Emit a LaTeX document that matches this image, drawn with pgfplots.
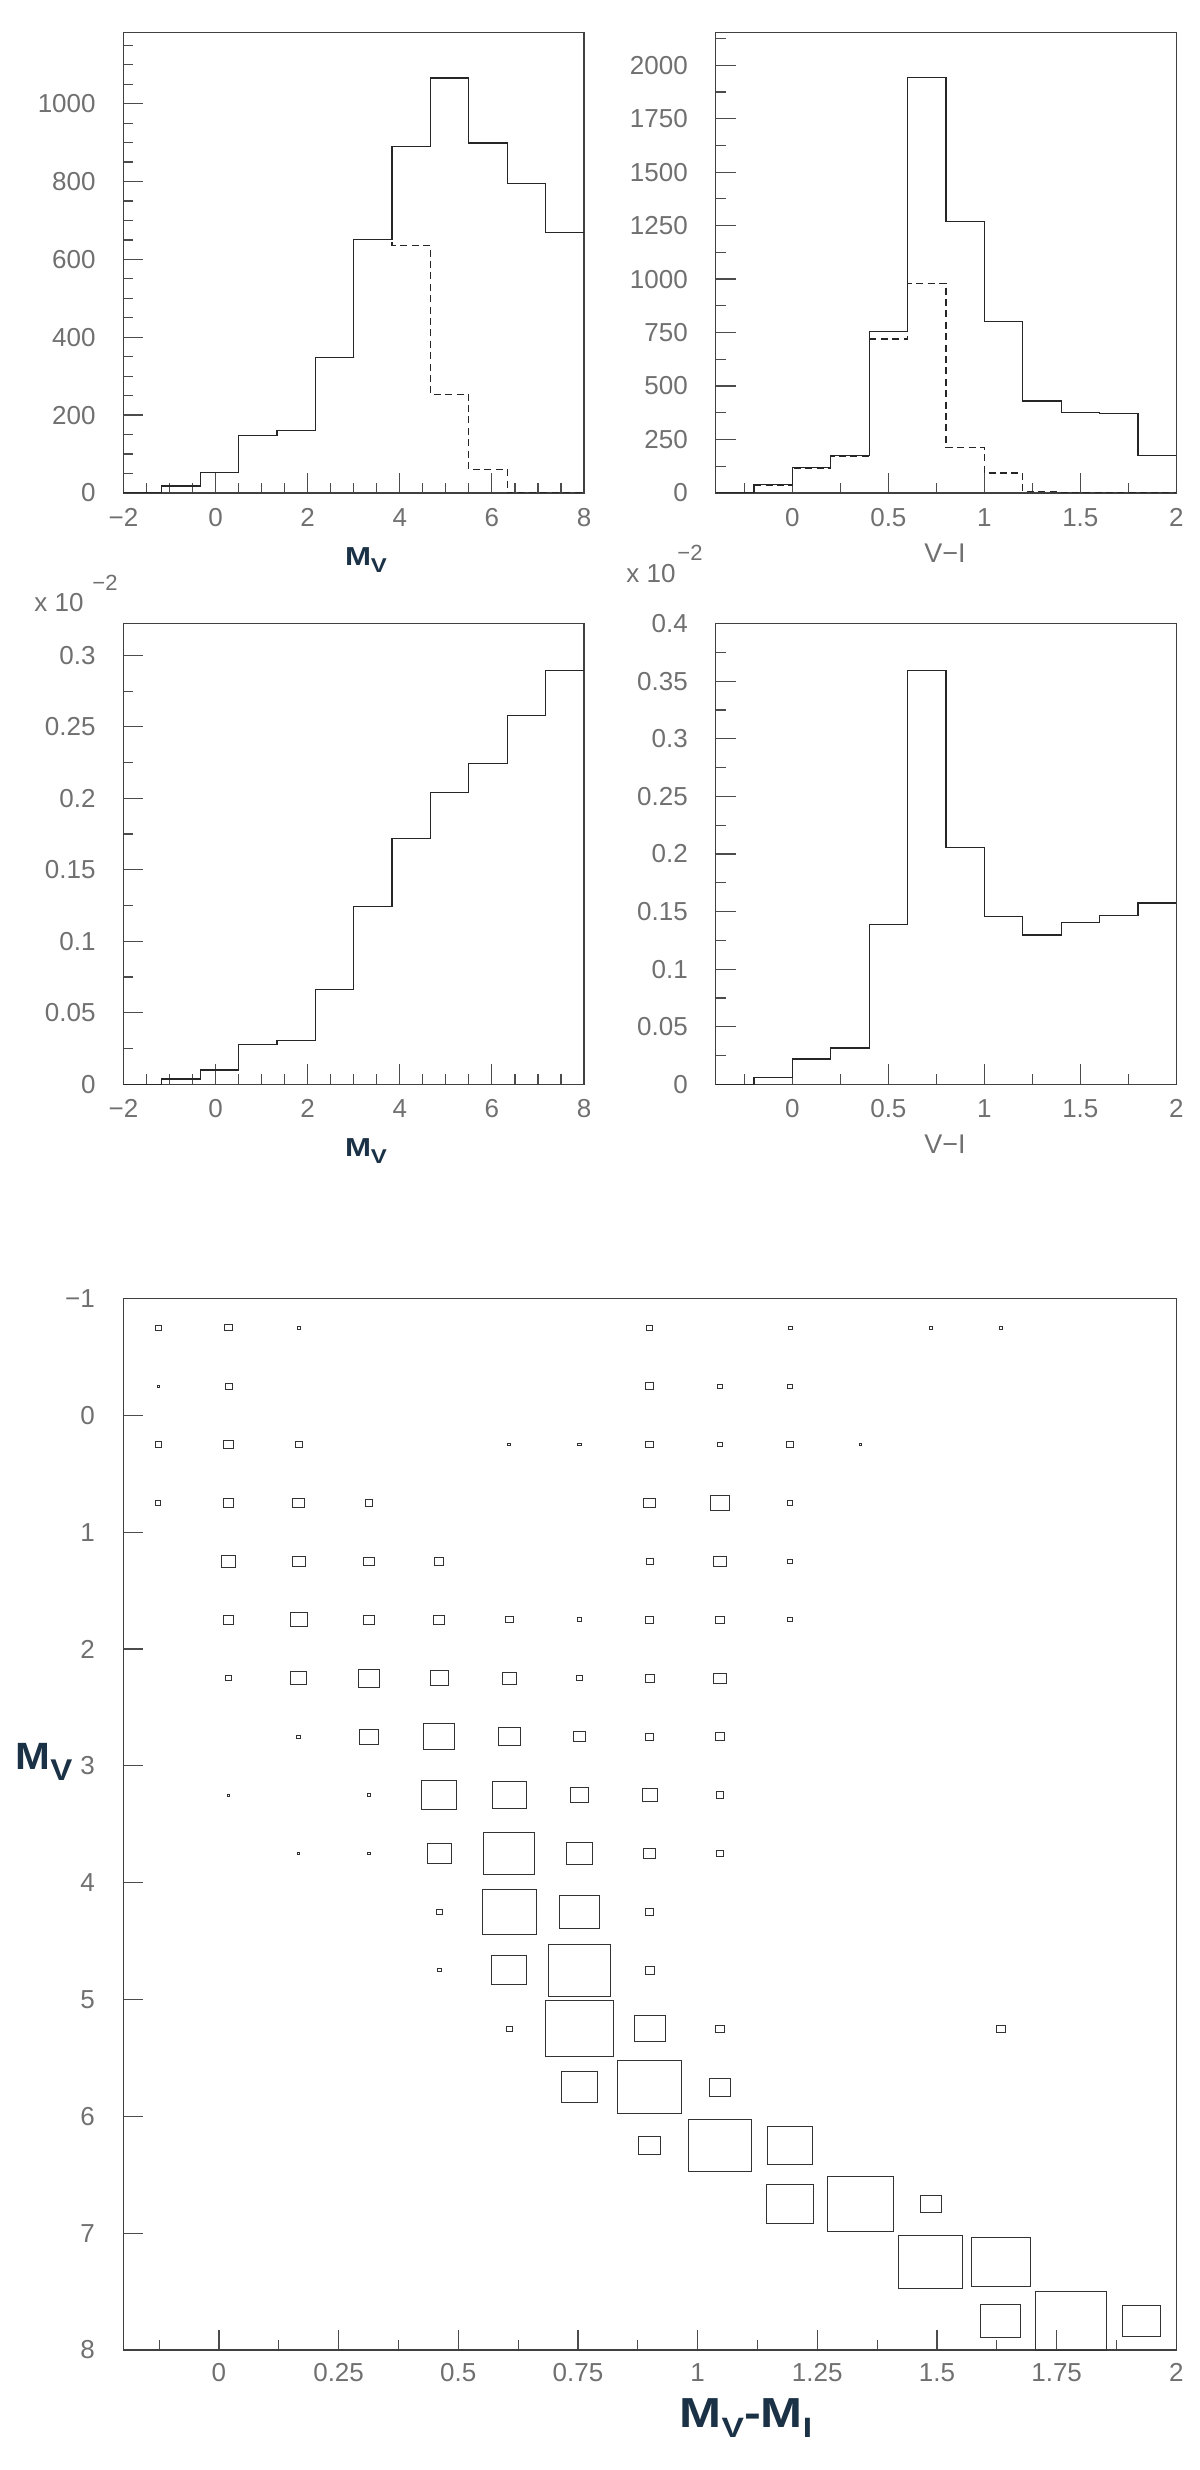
\documentclass[border=0pt]{standalone}
\usepackage{fontspec}
\setmainfont{Liberation Sans}
\usepackage{graphicx}
\usepackage{pgfplots}
\pgfplotsset{compat=1.18}

\definecolor{navy}{RGB}{27,50,70}
\definecolor{ticktext}{RGB}{112,112,112}

% 1 px of the 1200x2470 image = 0.5pt
\newcommand{\lab}[3]{\scalebox{#3}[1]{\fontsize{#1}{#1}\selectfont\bfseries M\raisebox{-0.3em}{\fontsize{#2}{#2}\selectfont V}}}

\pgfplotsset{
  rootframe/.style={
    scale only axis, anchor=north west,
    axis line style={black!75, line width=0.6pt},
    tick align=inside, xtick pos=left, ytick pos=left,
    major tick length=10pt, minor tick length=5pt,
    tick style={black!70, line width=0.6pt},
    tick label style={font=\fontsize{13}{13}\selectfont, text=ticktext, inner sep=0pt},
    yticklabel shift=13.7pt, xticklabel shift=7.5pt,
  },
  histline/.style={const plot, black!85, line width=0.6pt, mark=none},
  histdash/.style={const plot, black!85, line width=0.6pt, mark=none, dash pattern=on 3.5pt off 2.2pt},
}

\begin{document}
\begin{tikzpicture}
\path[use as bounding box] (0,0) rectangle (600pt,-1235pt);

% ---------------- top left: M_V counts
\begin{axis}[rootframe, at={(61.7pt,-16.05pt)}, width=230.3pt, height=230.4pt,
  xmin=-2, xmax=8, ymin=0, ymax=1184,
  xtick={-2,0,2,4,6,8}, xticklabels={−2,0,2,4,6,8},
  minor xtick={-1.5,-1,-0.5,0.5,1,1.5,2.5,3,3.5,4.5,5,5.5,6.5,7,7.5},
  ytick={0,200,400,600,800,1000}, yticklabels={0,200,400,600,800,1000},
  minor ytick={0,50,...,1150}]
\addplot[histdash] coordinates {(-2,1) (-1.1667,16) (-0.3333,52) (0.5,147) (1.3333,161) (2.1667,347) (3,651) (3.8333,636) (4.6667,253) (5.5,61) (6.3333,0) (7.1667,0) (8,0)};
\addplot[histline] coordinates {(-2,2) (-1.1667,18) (-0.3333,52) (0.5,147) (1.3333,161) (2.1667,347) (3,651) (3.8333,890) (4.6667,1066) (5.5,899) (6.3333,794) (7.1667,670) (8,670)};
\end{axis}

% ---------------- top right: V-I counts
\begin{axis}[rootframe, at={(357.8pt,-16.05pt)}, width=230.35pt, height=230.4pt,
  xmin=-0.4, xmax=2, ymin=0, ymax=2155,
  xtick={0,0.5,1,1.5,2}, xticklabels={0,0.5,1,1.5,2},
  minor xtick={-0.25,0.25,0.75,1.25,1.75},
  ytick={0,250,...,2000}, yticklabels={0,250,500,750,1000,1250,1500,1750,2000},
  minor ytick={0,125,...,2125}]
\addplot[histdash] coordinates {(-0.4,0) (-0.2,33) (0,114) (0.2,169) (0.4,720) (0.6,981) (0.8,213) (1,93) (1.2,6) (1.4,3) (1.6,2) (1.8,0) (2,0)};
\addplot[histline] coordinates {(-0.4,3) (-0.2,40) (0,120) (0.2,174) (0.4,756) (0.6,1942) (0.8,1270) (1,801) (1.2,430) (1.4,376) (1.6,370) (1.8,175) (2,175)};
\end{axis}

% ---------------- middle left: fraction vs M_V (x 10^-2)
\begin{axis}[rootframe, at={(61.7pt,-311.8pt)}, width=230.3pt, height=230.35pt,
  xmin=-2, xmax=8, ymin=0, ymax=0.3222,
  xtick={-2,0,2,4,6,8}, xticklabels={−2,0,2,4,6,8},
  minor xtick={-1.5,-1,-0.5,0.5,1,1.5,2.5,3,3.5,4.5,5,5.5,6.5,7,7.5},
  ytick={0,0.05,0.1,0.15,0.2,0.25,0.3}, yticklabels={0,0.05,0.1,0.15,0.2,0.25,0.3},
  minor ytick={0.025,0.075,0.125,0.175,0.225,0.275}]
\addplot[histline] coordinates {(-2,0) (-1.1667,0.0037) (-0.3333,0.010) (0.5,0.028) (1.3333,0.0307) (2.1667,0.0662) (3,0.1244) (3.8333,0.1721) (4.6667,0.2043) (5.5,0.2241) (6.3333,0.258) (7.1667,0.2895) (8,0.2895)};
\end{axis}

% ---------------- middle right: fraction vs V-I (x 10^-2)
\begin{axis}[rootframe, at={(357.8pt,-311.8pt)}, width=230.35pt, height=230.35pt,
  xmin=-0.4, xmax=2, ymin=0, ymax=0.4,
  xtick={0,0.5,1,1.5,2}, xticklabels={0,0.5,1,1.5,2},
  minor xtick={-0.25,0.25,0.75,1.25,1.75},
  ytick={0,0.05,0.1,0.15,0.2,0.25,0.3,0.35,0.4}, yticklabels={0,0.05,0.1,0.15,0.2,0.25,0.3,0.35,0.4},
  minor ytick={0.025,0.075,0.125,0.175,0.225,0.275,0.325,0.375}]
\addplot[histline] coordinates {(-0.4,0) (-0.2,0.0056) (0,0.022) (0.2,0.0316) (0.4,0.139) (0.6,0.3594) (0.8,0.2056) (1,0.146) (1.2,0.1296) (1.4,0.1405) (1.6,0.1467) (1.8,0.1575) (2,0.1575)};
\end{axis}

% ---------------- bottom: box plot M_V vs M_V-M_I
\begin{axis}[rootframe, at={(61.6pt,-649.25pt)}, width=526.55pt, height=525.75pt,
  xmin=-0.2, xmax=2, ymin=-1, ymax=8, y dir=reverse,
  xtick pos=left, xticklabel pos=left,
  yticklabel shift=14pt, xticklabel shift=6.5pt,
  xtick={0,0.25,0.5,0.75,1,1.25,1.5,1.75,2}, xticklabels={0,0.25,0.5,0.75,1,1.25,1.5,1.75,2},
  minor xtick={-0.125,0.125,0.375,0.625,0.875,1.125,1.375,1.625,1.875},
  ytick={-1,0,...,8}, yticklabels={−1,0,1,2,3,4,5,6,7,8},
  clip=false]
\addplot[scatter, only marks, mark=square, point meta=explicit,
  scatter/use mapped color={draw=black!80, fill=none},
  mark options={xscale=1.202, line width=0.5pt},
  visualization depends on={14.6*\thisrow{f} \as \boxsize},
  scatter/@pre marker code/.append style={/tikz/mark size=\boxsize}]
 table[x=x, y=y, meta=f] {
x y f
-0.1267 -0.75 0.08
0.0200 -0.75 0.11
0.1667 -0.75 0.045
0.9000 -0.75 0.08
1.1933 -0.75 0.055
1.4867 -0.75 0.045
1.6333 -0.75 0.045
-0.1267 -0.25 0.03
0.0200 -0.25 0.10
0.9000 -0.25 0.11
1.0467 -0.25 0.07
1.1933 -0.25 0.07
-0.1267 0.25 0.09
0.0200 0.25 0.15
0.1667 0.25 0.10
0.6067 0.25 0.045
0.7533 0.25 0.045
0.9000 0.25 0.11
1.0467 0.25 0.07
1.1933 0.25 0.09
1.3400 0.25 0.035
-0.1267 0.75 0.075
0.0200 0.75 0.15
0.1667 0.75 0.165
0.3133 0.75 0.11
0.9000 0.75 0.165
1.0467 0.75 0.26
1.1933 0.75 0.07
0.0200 1.25 0.21
0.1667 1.25 0.18
0.3133 1.25 0.15
0.4600 1.25 0.135
0.9000 1.25 0.105
1.0467 1.25 0.18
1.1933 1.25 0.07
0.0200 1.75 0.15
0.1667 1.75 0.24
0.3133 1.75 0.165
0.4600 1.75 0.16
0.6067 1.75 0.105
0.7533 1.75 0.07
0.9000 1.75 0.11
1.0467 1.75 0.115
1.1933 1.75 0.07
0.0200 2.25 0.08
0.1667 2.25 0.23
0.3133 2.25 0.305
0.4600 2.25 0.26
0.6067 2.25 0.20
0.7533 2.25 0.08
0.9000 2.25 0.135
1.0467 2.25 0.175
0.1667 2.75 0.05
0.3133 2.75 0.26
0.4600 2.75 0.45
0.6067 2.75 0.315
0.7533 2.75 0.165
0.9000 2.75 0.12
1.0467 2.75 0.135
0.0200 3.25 0.035
0.3133 3.25 0.04
0.4600 3.25 0.49
0.6067 3.25 0.475
0.7533 3.25 0.255
0.9000 3.25 0.21
1.0467 3.25 0.11
0.1667 3.75 0.035
0.3133 3.75 0.035
0.4600 3.75 0.345
0.6067 3.75 0.725
0.7533 3.75 0.38
0.9000 3.75 0.165
1.0467 3.75 0.10
0.4600 4.25 0.087
0.6067 4.25 0.77
0.7533 4.25 0.57
0.9000 4.25 0.11
0.4600 4.75 0.055
0.6067 4.75 0.50
0.7533 4.75 0.887
0.9000 4.75 0.135
0.6067 5.25 0.093
0.7533 5.25 0.964
0.9000 5.25 0.436
1.0467 5.25 0.115
1.6333 5.25 0.125
0.7533 5.75 0.52
0.9000 5.75 0.905
1.0467 5.75 0.305
0.9000 6.25 0.31
1.0467 6.25 0.90
1.1933 6.25 0.64
1.1933 6.75 0.66
1.3400 6.75 0.945
1.4867 6.75 0.30
1.4867 7.25 0.907
1.6333 7.25 0.84
1.6333 7.75 0.57
1.7800 7.75 1.00
1.9267 7.75 0.54
};
\end{axis}

% ---------------- axis titles
\node[text=navy] at (183pt,-280pt) {\lab{13}{10}{1.2}};
\node[text=navy] at (183pt,-575.5pt) {\lab{13}{10}{1.2}};
\node[text=ticktext, font=\fontsize{13.5}{13.5}\selectfont] at (472.5pt,-276.5pt) {V−I};
\node[text=ticktext, font=\fontsize{13.5}{13.5}\selectfont] at (472.5pt,-572pt) {V−I};
\node[text=ticktext, font=\fontsize{13}{13}\selectfont] at (29.5pt,-301.5pt) {x 10};
\node[text=ticktext, font=\fontsize{11}{11}\selectfont] at (52.5pt,-291.5pt) {−2};
\node[text=ticktext, font=\fontsize{13}{13}\selectfont] at (325.5pt,-287pt) {x 10};
\node[text=ticktext, font=\fontsize{11}{11}\selectfont] at (345pt,-276.5pt) {−2};
\node[text=navy] at (22pt,-881pt) {\lab{19}{15}{1.1}};
\node[text=navy] at (373pt,-1209pt) {\scalebox{1.2}[1]{\fontsize{21}{21}\selectfont\bfseries M\raisebox{-0.25em}{\fontsize{14}{14}\selectfont V}-M\raisebox{-0.25em}{\fontsize{14}{14}\selectfont I}}};
\end{tikzpicture}
\end{document}
